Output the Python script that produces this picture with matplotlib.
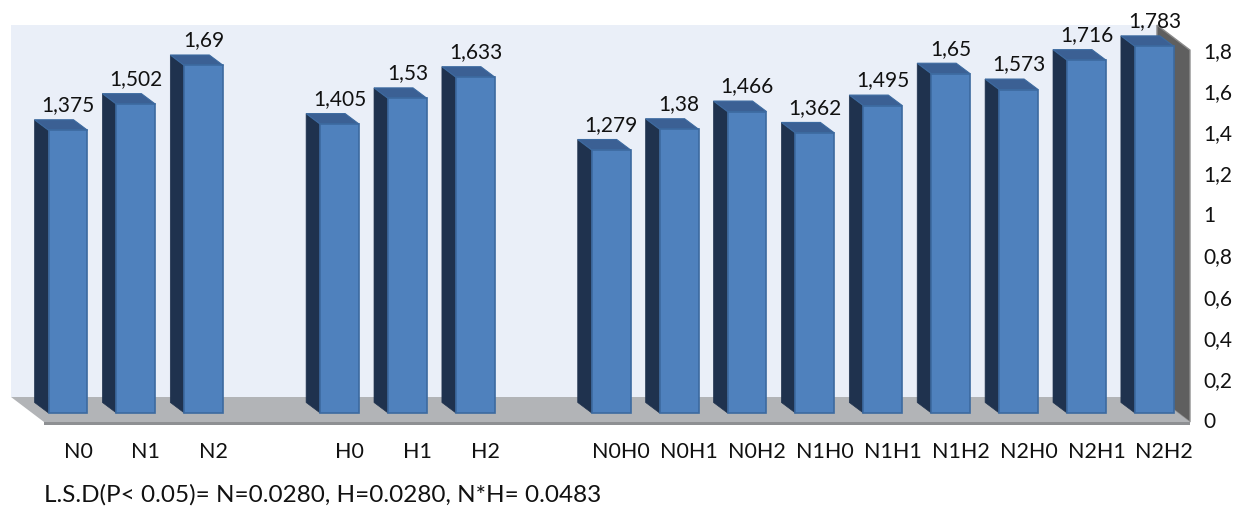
import numpy as np
import matplotlib
matplotlib.use("Agg")
import matplotlib.pyplot as plt
from matplotlib.patches import Polygon, Rectangle

plt.rcParams['font.family'] = ['Lato', 'DejaVu Sans']

# --- data -------------------------------------------------------------
n_labels = ["N0", "N1", "N2"]
n_values = [1.375, 1.502, 1.69]
h_labels = ["H0", "H1", "H2"]
h_values = [1.405, 1.53, 1.633]
nh_labels = ["N0H0", "N0H1", "N0H2", "N1H0", "N1H1", "N1H2", "N2H0", "N2H1", "N2H2"]
nh_values = [1.279, 1.38, 1.466, 1.362, 1.495, 1.65, 1.573, 1.716, 1.783]
y_ticks = [0, 0.2, 0.4, 0.6, 0.8, 1.0, 1.2, 1.4, 1.6, 1.8]
lsd_note = "L.S.D(P< 0.05)= N=0.0280, H=0.0280, N*H= 0.0483"

def comma(v):
    s = ("%.3f" % v).rstrip("0").rstrip(".")
    return s.replace(".", ",")

# slot positions, one empty slot between the groups
labels, values, xpos = [], [], []
start = 0
for lab, val in [(n_labels, n_values), (h_labels, h_values), (nh_labels, nh_values)]:
    labels += lab
    values += val
    xpos += [start + i for i in range(len(lab))]
    start += len(lab) + 1

# --- fake 3d geometry (x in slots, y in value units) ------------------
W = 0.574          # bar front width
B0 = 0.044         # bar base above the floor front edge
BDX, BDY = -0.206, 0.051   # bar depth shift
WDX, WDY = -0.486, 0.1216  # wall depth shift
X0, X1 = -0.353, 16.524    # floor front edge
TOP = 1.809                # wall top at the front plane

C_FRONT = "#4f81bd"
C_EDGE = "#3c6aa0"
C_SIDE = "#1f324e"
C_TOP = "#3b6094"
C_TXT = "#111111"

fig = plt.figure(figsize=(12.43, 5.09), dpi=100)
ax = fig.add_axes([0, 0, 1, 1])
ax.set_xlim(-1.0015, 17.305)
ax.set_ylim(-0.4231, 2.0525)
ax.axis("off")

# back wall, side wall, floor
ax.add_patch(Rectangle((X0 + WDX, WDY), X1 - X0, TOP, facecolor="#eaeff8",
                       edgecolor="none", zorder=0))
ax.add_patch(Polygon([(X1 + WDX, WDY), (X1 + WDX, TOP + WDY), (X1, TOP), (X1, 0)],
                     closed=True, facecolor="#5f5f5f", edgecolor="#8a8a8a",
                     lw=1, zorder=1))
ax.add_patch(Polygon([(X0 + WDX, WDY), (X1 + WDX, WDY), (X1, 0), (X0, 0)],
                     closed=True, facecolor="#b2b4b7", edgecolor="none", zorder=1))
ax.add_patch(Rectangle((X0, -0.013), X1 - X0, 0.013, facecolor="#8e9093",
                       edgecolor="none", zorder=1))

# bars
for x, v in zip(xpos, values):
    l, r = x - W / 2, x + W / 2
    b, t = B0, B0 + v
    ax.add_patch(Polygon([(l + BDX, b + BDY), (l + BDX, t + BDY), (l, t), (l, b)],
                         closed=True, facecolor=C_SIDE, edgecolor=C_SIDE, lw=0.5, zorder=3))
    ax.add_patch(Polygon([(l + BDX, t + BDY), (r + BDX, t + BDY), (r, t), (l, t)],
                         closed=True, facecolor=C_TOP, edgecolor=C_EDGE, lw=0.8, zorder=3))
ax.bar(xpos, values, width=W, bottom=B0, color=C_FRONT, edgecolor=C_EDGE,
       linewidth=1.2, zorder=4)

# value labels
for x, v in zip(xpos, values):
    ax.text(x, B0 + v + BDY + 0.022, comma(v), ha="center", va="bottom",
            fontsize=15, color=C_TXT, zorder=5)

# category labels
for x, lab in zip(xpos, labels):
    ax.text(x + 0.147, -0.146, lab, ha="center", va="center", fontsize=15.5,
            color=C_TXT)

# value axis on the right
for t in y_ticks:
    ax.text(16.716, t, comma(t), ha="left", va="center", fontsize=15,
            color=C_TXT)

ax.text(X0, -0.352, lsd_note, ha="left", va="center", fontsize=17.5,
        color=C_TXT)

fig.savefig("out.png", dpi=100)
